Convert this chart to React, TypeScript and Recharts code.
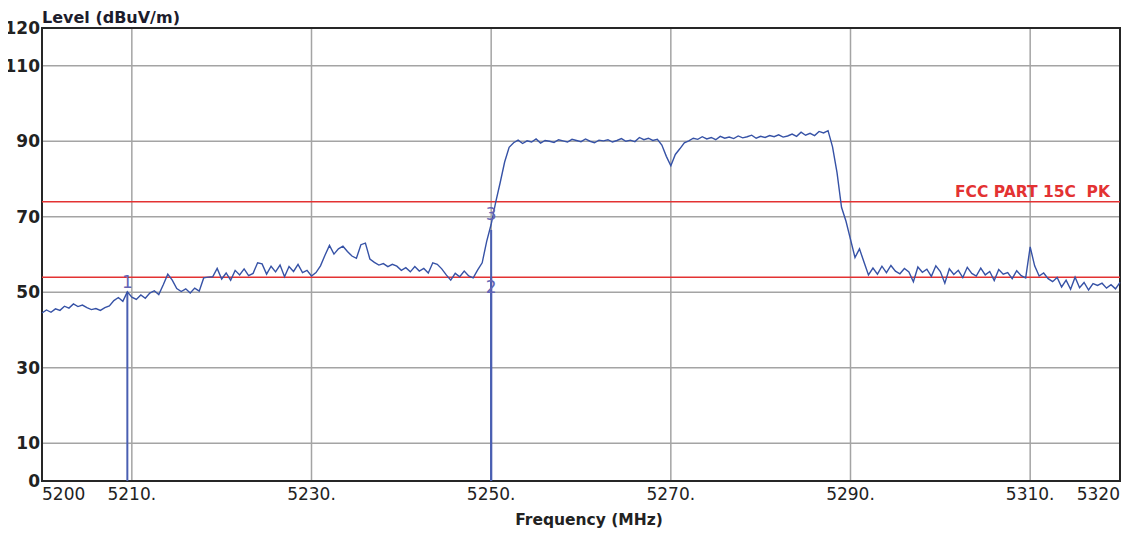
import React from "react";
import {
  LineChart,
  Line,
  XAxis,
  YAxis,
  CartesianGrid,
  ReferenceLine,
  ReferenceDot,
  ReferenceArea,
} from "recharts";

// sweep: 5200 -> 5320 MHz, one reading every 0.5 MHz
const START_MHZ = 5200;
const STOP_MHZ = 5320;

const levels = [
  // 5200 - 5210
  44.5, 45.3, 44.7, 45.6, 45.2, 46.3, 45.8, 46.9, 46.2, 46.6, 45.9, 45.4, 45.7,
  45.2, 45.9, 46.4, 47.8, 48.6, 47.6, 50.1, 48.7,
  // 5210.5 - 5220
  48.1, 49.3, 48.4, 49.8, 50.4, 49.4, 52.0, 54.8, 53.2, 51.0, 50.2, 50.9, 49.8,
  51.1, 50.3, 53.8, 54.0, 54.1, 56.3, 53.5,
  // 5220.5 - 5230
  55.1, 53.2, 55.8, 54.6, 56.2, 54.4, 55.0, 57.8, 57.5, 54.8, 56.9, 55.4, 57.2,
  54.1, 56.8, 55.5, 57.4, 55.2, 55.8, 54.3,
  // 5230.5 - 5250
  55.2, 57.0, 59.8, 62.4, 60.1, 61.5, 62.2, 60.8, 59.6, 59.0, 62.6, 63.0, 58.8,
  57.9, 57.2, 57.6, 56.8, 57.4, 56.9, 55.8, 56.5, 55.4, 56.8, 55.6, 56.3, 55.1,
  57.8, 57.4, 56.2, 54.6, 53.2, 55.0, 54.1, 55.6, 54.3, 53.8, 55.9, 57.8, 63.5,
  68.0,
  // 5250.5 - 5252
  73.8, 79.0, 84.5, 88.4,
  // 5252.5 - 5269
  89.6, 90.3, 89.4, 90.1, 89.8, 90.6, 89.5, 90.2, 90.0, 89.7, 90.4, 90.1, 89.8,
  90.5, 90.2, 89.9, 90.6, 90.0, 89.6, 90.3, 90.1, 90.4, 89.8, 90.2, 90.7, 90.0,
  90.3, 89.9, 91.0, 90.4, 90.8, 90.2, 90.5, 89.0,
  // 5269.5 - 5271
  86.0, 83.5, 86.5, 88.0,
  // 5271.5 - 5287.5
  89.6, 90.1, 90.8, 90.5, 91.2, 90.6, 91.0, 90.4, 91.3, 90.8, 91.1, 90.7, 91.4,
  90.9, 91.2, 91.6, 90.8, 91.3, 91.0, 91.5, 91.2, 91.7, 91.1, 91.4, 91.9, 91.3,
  92.4, 91.6, 92.1, 91.5, 92.6, 92.2, 92.8,
  // 5288 - 5292
  88.5, 81.7, 72.5, 68.8, 64.0, 59.2, 61.5, 58.0, 54.6,
  // 5292.5 - 5309.5
  56.4, 54.8, 56.9, 55.2, 57.1, 55.6, 54.9, 56.3, 55.4, 52.8, 56.7, 55.3, 56.1,
  54.2, 57.0, 55.5, 52.4, 56.2, 54.7, 55.8, 53.9, 56.6, 55.0, 54.3, 56.4, 54.6,
  55.5, 53.1, 56.0, 54.8, 55.2, 53.6, 55.7, 54.4, 53.8,
  // 5310 - 5320
  62.0, 57.0, 54.3, 55.1, 53.6, 52.8, 53.9, 51.4, 53.2, 50.8, 54.0, 51.2, 52.6,
  50.6, 52.3, 51.8, 52.4, 51.1, 52.0, 50.9, 52.6,
];

const xTicks = [5200, 5210, 5230, 5250, 5270, 5290, 5310, 5320];
const yTicks = [0, 10, 30, 50, 70, 90, 110, 120];

const limitPk = 74;
const limitAv = 54;
const limitName = "FCC PART 15C\u00a0 PK";

const markerIds = ["1", "2", "3"];
const markerFreqs = [5209.5, 5250, 5250];
const markerLevels = [50.1, 54.0, 68.0];
const markerLabelSide: ("top" | "bottom")[] = ["top", "bottom", "top"];

const step = (STOP_MHZ - START_MHZ) / (levels.length - 1);
const rows = levels.map((level, i) => ({ freq: START_MHZ + i * step, level }));

const FONT = "'DejaVu Sans', sans-serif";
const TRACE = "#3652a6";
const MARKER = "#4a5fb2";
const LIMIT = "#e33232";

const XTick = (props: any) => {
  const { x, y, payload, index } = props;
  const v = payload.value as number;
  const last = index === xTicks.length - 1;
  const anchor = index === 0 ? "start" : last ? "end" : "middle";
  const txt = index === 0 || last ? `${v}` : `${v}.`;
  return (
    <text
      x={x}
      y={y}
      dy="0.71em"
      textAnchor={anchor}
      fontFamily={FONT}
      fontSize={17}
      fill="#222"
    >
      {txt}
    </text>
  );
};

const YTick = (props: any) => {
  const { x, y, payload } = props;
  return (
    <text
      x={x}
      y={y}
      dy="0.36em"
      textAnchor="end"
      fontFamily={FONT}
      fontSize={17}
      fontWeight="bold"
      fill="#222"
    >
      {payload.value}
    </text>
  );
};

export default function App() {
  return (
    <div style={{ margin: "-8px 0 0 -8px", background: "#fff" }}>
      <LineChart
        width={1137}
        height={533}
        data={rows}
        margin={{ top: 28, right: 17, left: 0, bottom: 0 }}
        style={{ overflow: "visible" }}
      >
        <CartesianGrid stroke="#a4a4a4" strokeWidth={1.5} />
        <XAxis
          dataKey="freq"
          type="number"
          domain={[START_MHZ, STOP_MHZ]}
          ticks={xTicks}
          axisLine={false}
          tickLine={false}
          tickSize={0}
          tickMargin={7}
          height={52}
          tick={<XTick />}
          label={{
            content: (p: any) => {
              const vb = p.viewBox;
              return (
                <text
                  x={vb.x + vb.width / 2 + 8}
                  y={vb.y + 44}
                  textAnchor="middle"
                  fontFamily={FONT}
                  fontSize={15.5}
                  fontWeight="bold"
                  fill="#222"
                >
                  Frequency (MHz)
                </text>
              );
            },
          }}
        />
        <YAxis
          type="number"
          domain={[0, 120]}
          ticks={yTicks}
          axisLine={false}
          tickLine={false}
          tickSize={0}
          tickMargin={2}
          width={42}
          tick={<YTick />}
          label={{
            content: (p: any) => {
              const vb = p.viewBox;
              return (
                <text
                  x={vb.x + vb.width}
                  y={vb.y - 5}
                  fontFamily={FONT}
                  fontSize={16}
                  fontWeight="bold"
                  fill="#1c1c2c"
                >
                  Level (dBuV/m)
                </text>
              );
            },
          }}
        />
        <ReferenceLine y={limitAv} stroke={LIMIT} strokeWidth={1.5} />
        <ReferenceLine
          y={limitPk}
          stroke={LIMIT}
          strokeWidth={1.5}
          label={{
            content: (p: any) => {
              const vb = p.viewBox;
              return (
                <text
                  x={vb.x + vb.width - 10}
                  y={vb.y - 5}
                  textAnchor="end"
                  fontFamily={FONT}
                  fontSize={15.5}
                  fontWeight="bold"
                  fill={LIMIT}
                >
                  {limitName}
                </text>
              );
            },
          }}
        />
        {markerIds.map((id, i) => (
          <ReferenceLine
            key={"m" + id}
            segment={[
              { x: markerFreqs[i], y: 0 },
              { x: markerFreqs[i], y: Math.min(markerLevels[i], 66.5) },
            ]}
            stroke={MARKER}
            strokeWidth={2}
          />
        ))}
        <Line
          dataKey="level"
          type="linear"
          stroke={TRACE}
          strokeWidth={1.4}
          dot={false}
          isAnimationActive={false}
        />
        {markerIds.map((id, i) => (
          <ReferenceDot
            key={"d" + id}
            x={markerFreqs[i]}
            y={markerLevels[i]}
            r={1}
            fill="none"
            stroke="none"
            label={{
              value: id,
              position: markerLabelSide[i],
              offset: 3,
              fill: "#6464b4",
              fontSize: 17,
              fontFamily: FONT,
            }}
          />
        ))}
        <ReferenceArea
          x1={START_MHZ}
          x2={STOP_MHZ}
          y1={0}
          y2={120}
          fill="none"
          fillOpacity={0}
          stroke="#262626"
          strokeWidth={2}
        />
      </LineChart>
    </div>
  );
}
